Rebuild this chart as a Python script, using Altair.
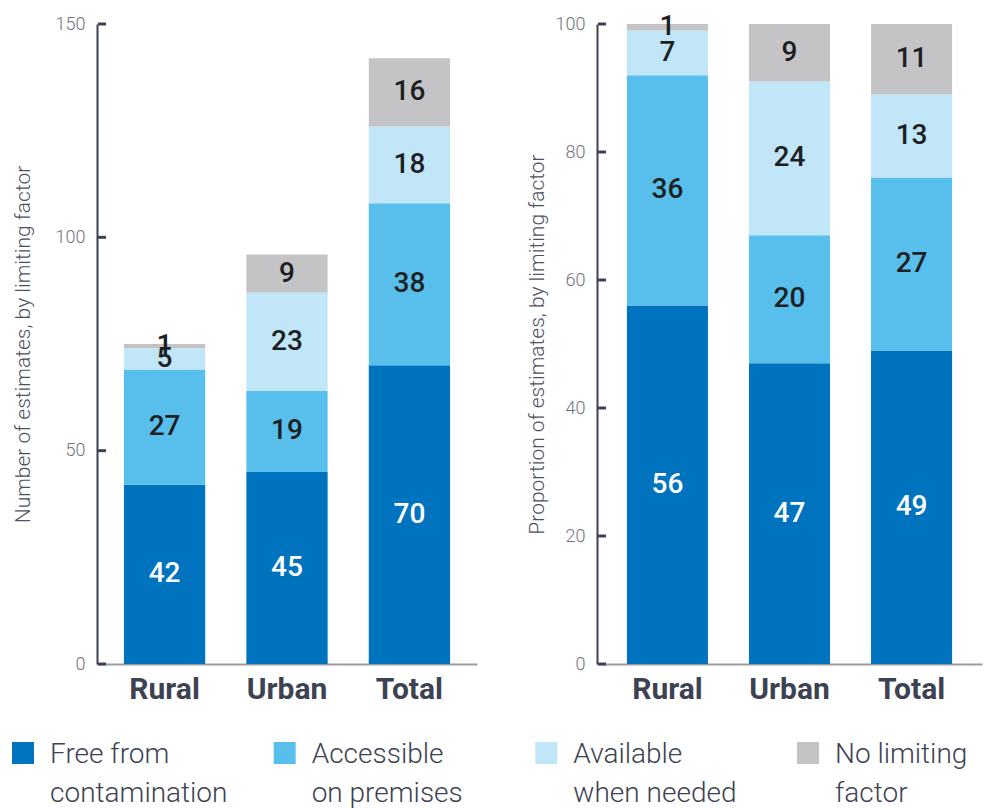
import altair as alt
import pandas as pd

# ---- data ----
areas = ["Rural", "Urban", "Total"]
categories = ["Free from contamination", "Accessible on premises",
              "Available when needed", "No limiting factor"]
legend_labels = ["Free from\ncontamination", "Accessible\non premises",
                 "Available\nwhen needed", "No limiting\nfactor"]
colors = ["#0073BF", "#58BEEC", "#C0E6F8", "#C4C4C6"]

count_free = [42, 45, 70]
count_access = [27, 19, 38]
count_avail = [5, 23, 18]
count_none = [1, 9, 16]

pct_free = [56, 47, 49]
pct_access = [36, 20, 27]
pct_avail = [7, 24, 13]
pct_none = [1, 9, 11]

count_ticks = [0, 50, 100, 150]
pct_ticks = [0, 20, 40, 60, 80, 100]


def long_df(series_list):
    rows = []
    for ci, (cat, vals) in enumerate(zip(categories, series_list)):
        for a, v in zip(areas, vals):
            rows.append({"area": a, "category": cat, "order": ci, "value": v})
    return pd.DataFrame(rows)


count_df = long_df([count_free, count_access, count_avail, count_none])
pct_df = long_df([pct_free, pct_access, pct_avail, pct_none])

DARK = "#3d4252"
color_scale = alt.Scale(domain=categories, range=colors)


def panel(df, ticks, ymax, width, title, title_padding, pad_outer):
    yscale = alt.Scale(domain=[0, ymax], nice=False)
    yaxis = alt.Axis(title=title, values=ticks, ticks=False,
                     grid=False, domainColor=DARK, domainWidth=2,
                     labelFont="Roboto", labelFontSize=18,
                     labelFontWeight=300, labelColor="#6f737d",
                     labelPadding=12, labelFlush=False,
                     labelOverlap=False,
                     titleFont="Roboto", titleFontSize=21,
                     titleFontWeight=300, titleColor="#4d5260",
                     titlePadding=title_padding)
    xenc = alt.X(
        "area:N", sort=areas,
        scale=alt.Scale(paddingInner=0.336, paddingOuter=pad_outer),
        axis=alt.Axis(title=None, labelAngle=0, labelFont="Roboto",
                      labelFontSize=30, labelFontWeight="bold",
                      labelColor=DARK, domainColor="#9a9ca3", domainWidth=2,
                      ticks=False, labelPadding=10),
    )
    base = alt.Chart(df).transform_stack(
        stack="value", as_=["v0", "v1"], groupby=["area"],
        sort=[alt.SortField(field="order", order="ascending")],
    )
    bars = base.mark_bar().encode(
        x=xenc,
        y=alt.Y("v0:Q", scale=yscale, axis=yaxis),
        y2="v1:Q",
        color=alt.Color("category:N", scale=color_scale, legend=None),
    )
    labels = base.transform_calculate(
        mid="(datum.v0 + datum.v1) / 2"
    ).mark_text(font="Roboto", fontSize=28, fontWeight=500,
                baseline="middle").encode(
        x=xenc,
        y=alt.Y("mid:Q", scale=yscale, axis=yaxis),
        text=alt.Text("value:Q"),
        color=alt.condition("datum.order == 0", alt.value("white"),
                            alt.value("#1e1f22")),
    )
    tick_df = pd.DataFrame({"t": ticks})
    tick_marks = alt.Chart(tick_df).mark_rule(
        strokeWidth=3, color=DARK
    ).encode(
        y=alt.Y("t:Q", scale=yscale, axis=yaxis),
        x=alt.value(1),
        x2=alt.value(9),
    )
    return alt.layer(bars, labels, tick_marks).properties(width=width, height=640)


left = panel(count_df, count_ticks, 150, 380,
             "Number of estimates, by limiting factor", 22, 0.22)
right = panel(pct_df, pct_ticks, 100, 385,
              "Proportion of estimates, by limiting factor", 8, 0.245)

legend_df = pd.DataFrame({"category": categories, "label": legend_labels})
lx = alt.X("category:N", sort=categories,
           scale=alt.Scale(type="point", domain=categories, range=[-74, 711],
                           padding=0),
           axis=None)
leg_sq = alt.Chart(legend_df).mark_square(size=484, opacity=1).encode(
    x=lx, y=alt.value(11),
    color=alt.Color("category:N", scale=color_scale, legend=None),
)
leg_txt = alt.Chart(legend_df).mark_text(
    align="left", baseline="alphabetic", dx=27, font="Roboto",
    fontSize=28, fontWeight=300, color=DARK, lineBreak="\n", lineHeight=39,
).encode(x=lx, y=alt.value(21), text="label:N")
legend_chart = alt.layer(leg_sq, leg_txt).properties(width=885, height=60)

chart = alt.vconcat(
    alt.hconcat(left, right, spacing=120, bounds="flush"),
    legend_chart, spacing=37,
).properties(
    padding={"left": 12, "top": 13, "right": 2, "bottom": 0},
    background="white",
).configure_view(stroke=None)

chart.save("out.html", embed_options={"renderer": "svg", "actions": False})
